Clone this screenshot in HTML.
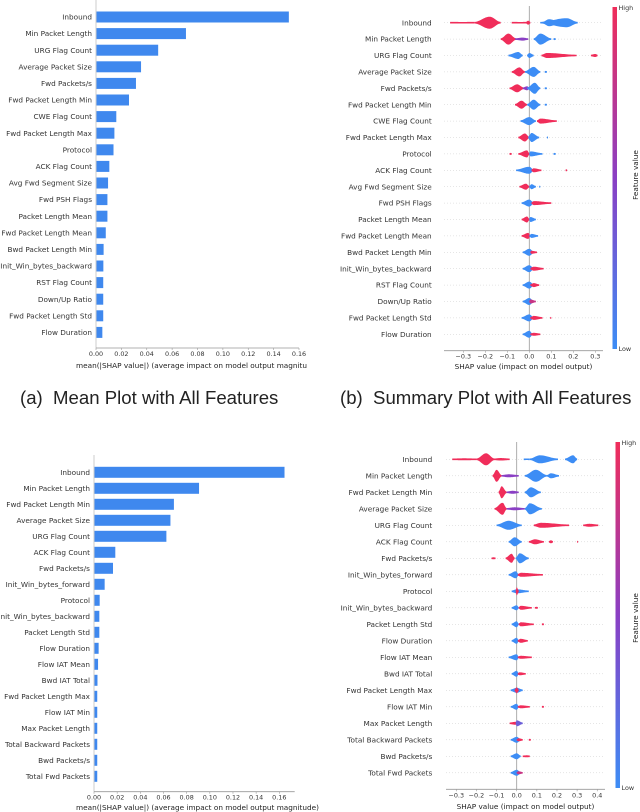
<!DOCTYPE html>
<html><head><meta charset="utf-8">
<style>
body{margin:0;background:#fff;width:640px;height:812px;overflow:hidden}
svg{display:block}
.lab{font-family:"DejaVu Sans","Liberation Sans",sans-serif;font-size:7.3px;fill:#333}
.tick{font-family:"DejaVu Sans","Liberation Sans",sans-serif;font-size:6.4px;fill:#333}
.ax{font-family:"DejaVu Sans","Liberation Sans",sans-serif;font-size:7.3px;fill:#222}
.cap{font-family:"Liberation Sans",sans-serif;font-size:18.6px;fill:#222;white-space:pre}
</style></head><body>
<svg id="fig" width="640" height="812" viewBox="0 0 640 812" xmlns="http://www.w3.org/2000/svg">
<defs>
<linearGradient id="cbar" x1="0" y1="1" x2="0" y2="0">
<stop offset="0" stop-color="#3d8df5"/><stop offset="0.5" stop-color="#8a3fc4"/><stop offset="1" stop-color="#f02d5a"/>
</linearGradient>
</defs>
<text class="cap" x="20" y="404" xml:space="preserve">(a)  Mean Plot with All Features</text>
<text class="cap" x="340" y="404" xml:space="preserve">(b)  Summary Plot with All Features</text>
</svg>
<script>
// ---- Panel A (mean bar, all features)
const aFeatures=["Inbound","Min Packet Length","URG Flag Count","Average Packet Size","Fwd Packets/s","Fwd Packet Length Min","CWE Flag Count","Fwd Packet Length Max","Protocol","ACK Flag Count","Avg Fwd Segment Size","Fwd PSH Flags","Packet Length Mean","Fwd Packet Length Mean","Bwd Packet Length Min","Init_Win_bytes_backward","RST Flag Count","Down/Up Ratio","Fwd Packet Length Std","Flow Duration"];
const aValues=[0.152,0.0709,0.049,0.0355,0.0315,0.026,0.016,0.0145,0.0138,0.0105,0.0095,0.009,0.009,0.0077,0.006,0.0058,0.0057,0.0057,0.0057,0.005];
const aTicks=[0,0.02,0.04,0.06,0.08,0.10,0.12,0.14,0.16];
const aTickLabels=["0.00","0.02","0.04","0.06","0.08","0.10","0.12","0.14","0.16"];
// ---- Panel C (mean bar, selected features)
const cFeatures=["Inbound","Min Packet Length","Fwd Packet Length Min","Average Packet Size","URG Flag Count","ACK Flag Count","Fwd Packets/s","Init_Win_bytes_forward","Protocol","Init_Win_bytes_backward","Packet Length Std","Flow Duration","Flow IAT Mean","Bwd IAT Total","Fwd Packet Length Max","Flow IAT Min","Max Packet Length","Total Backward Packets","Bwd Packets/s","Total Fwd Packets"];
const cValues=[0.1645,0.0907,0.069,0.066,0.0625,0.0184,0.0164,0.0092,0.0049,0.0046,0.0046,0.004,0.0035,0.003,0.0028,0.0028,0.0028,0.0028,0.0028,0.0028];
const cTicks=[0,0.02,0.04,0.06,0.08,0.10,0.12,0.14,0.16];
const cTickLabels=["0.00","0.02","0.04","0.06","0.08","0.10","0.12","0.14","0.16"];
// ---- Panel B (beeswarm, all features): blobs [start, end, peak, density, featureValue]
const bFeatures=aFeatures;
const bBlobs=[
[[-0.36,-0.25,-0.3,1.5,1],[-0.25,-0.13,-0.18,12,1],[-0.08,-0.01,-0.04,1.5,1],[-0.015,0.005,-0.005,4,1],[0.05,0.22,0.17,9,0],[0.06,0.14,0.09,7,0]],
[[-0.13,-0.06,-0.095,11,1],[-0.065,-0.005,-0.03,3,0.5],[0.02,0.1,0.05,11,0],[0.11,0.12,0.115,2,0]],
[[-0.095,-0.03,-0.05,7,0],[-0.01,0.02,0,5,0],[0.055,0.215,0.08,5,1],[0.28,0.31,0.3,3,1]],
[[-0.08,-0.02,-0.045,9,1],[-0.02,0.05,0.02,10,0],[0.07,0.08,0.075,2,0]],
[[-0.09,-0.025,-0.055,8,1],[-0.03,0.0,-0.01,4,0.5],[-0.01,0.05,0.025,11,0],[0.07,0.08,0.075,2,0]],
[[-0.065,-0.01,-0.035,8,1],[-0.01,0.05,0.02,10,0],[0.07,0.08,0.075,2,0]],
[[-0.04,0.03,0,8,0],[0.035,0.125,0.05,5,1]],
[[-0.05,0,-0.02,8,1],[-0.005,0.045,0.01,9,0],[0.08,0.085,0.082,2,0]],
[[-0.09,-0.08,-0.085,2,1],[-0.05,0.0,-0.01,7,1],[0,0.06,0.005,5,0],[0.11,0.12,0.115,2,0]],
[[-0.06,0.02,0,7,0],[0.01,0.055,0.02,4,1],[0.165,0.172,0.168,2,1]],
[[-0.045,0,-0.015,6,1],[0,0.03,0.01,5,0],[0.045,0.05,0.047,2,0]],
[[-0.035,0.02,0,7,0],[0.01,0.1,0.02,4,1]],
[[-0.035,0,-0.01,6,1],[0,0.03,0.005,5,0]],
[[-0.035,0.005,-0.005,6,1],[0,0.04,0.01,4,0]],
[[-0.03,0.02,0,7,0],[0.005,0.035,0.01,3,1]],
[[-0.03,0.02,0,7,0],[0.005,0.065,0.02,4,1]],
[[-0.03,0.02,0,7,0],[0.005,0.045,0.02,4,1]],
[[-0.03,0.02,0,7,0],[0,0.03,0.005,4,0.8]],
[[-0.035,0.02,0,7,0],[0.005,0.06,0.02,4,1],[0.095,0.1,0.097,2,1]],
[[-0.03,0.015,0,7,0],[0.005,0.05,0.02,3,1]]
];
const bTicks=[-0.3,-0.2,-0.1,0,0.1,0.2,0.3];
const bTickLabels=["\u22120.3","\u22120.2","\u22120.1","0.0","0.1","0.2","0.3"];
// ---- Panel D (beeswarm, selected features)
const dFeatures=cFeatures;
const dBlobs=[
[[-0.32,-0.2,-0.26,2,1],[-0.2,-0.11,-0.152,12,1],[-0.115,-0.035,-0.08,2.5,1],[0.035,0.065,0.05,1.5,0],[0.065,0.205,0.115,8,0],[0.24,0.3,0.28,8,0]],
[[-0.12,-0.075,-0.1,12,1],[-0.075,0.01,-0.04,3,0.5],[0.04,0.15,0.095,12,0],[0.15,0.21,0.17,5,0]],
[[-0.09,-0.05,-0.075,12,1],[-0.05,0.01,-0.02,3,0.5],[0.04,0.12,0.07,10,0]],
[[-0.11,-0.05,-0.07,12,1],[-0.05,0.04,-0.01,3,0.5],[0.04,0.125,0.065,11,0]],
[[-0.1,0.025,-0.04,9,0],[0.085,0.26,0.12,5,1],[0.33,0.405,0.36,3,1]],
[[-0.04,0.025,-0.01,9,0],[0.06,0.135,0.09,5,1],[0.16,0.18,0.17,3,1],[0.3,0.305,0.302,2,1]],
[[-0.125,-0.105,-0.115,2,1],[-0.055,-0.01,-0.025,9,1],[-0.005,0.06,0.015,10,0]],
[[-0.04,0.01,-0.005,7,0],[0.005,0.13,0.02,4,1]],
[[-0.025,0.06,0,4,0],[-0.005,0.01,0,8,1]],
[[-0.025,0.01,0,5,0],[0.01,0.075,0.02,4,1],[0.09,0.105,0.1,2,1]],
[[-0.025,0.01,0,6,0],[0.01,0.085,0.02,4,1],[0.125,0.135,0.13,2,1]],
[[-0.025,0.01,0,6,0],[0.005,0.055,0.02,4,1]],
[[-0.04,0.01,0,6,0],[0.005,0.075,0.02,3,1]],
[[-0.025,0.01,0,6,0],[0.005,0.045,0.015,3,1]],
[[-0.03,0.03,0,5,0],[-0.01,0.01,0,6,1]],
[[-0.03,0.01,0,6,0],[0.005,0.065,0.02,3,1],[0.125,0.135,0.13,2,1]],
[[-0.035,0,-0.005,3,1],[-0.005,0.03,0,6,0.3]],
[[-0.03,0.02,0,6,0],[0,0.03,0.01,3,1],[0.06,0.07,0.065,2,1]],
[[-0.03,0.02,0,6,0],[0.03,0.065,0.05,2,1]],
[[-0.03,0.02,0,6,0],[0,0.03,0.01,3,0.8]]
];
const dTicks=[-0.3,-0.2,-0.1,0,0.1,0.2,0.3,0.4];
const dTickLabels=["\u22120.3","\u22120.2","\u22120.1","0.0","0.1","0.2","0.3","0.4"];

const NS="http://www.w3.org/2000/svg";
const svg=document.getElementById('fig');
function mk(tag,attrs,parent){const e=document.createElementNS(NS,tag);for(const k in attrs)e.setAttribute(k,attrs[k]);(parent||svg).appendChild(e);return e;}
function txt(parent,x,y,s,cls,anchor){const t=mk('text',{x:x,y:y,class:cls,'text-anchor':anchor||'start'},parent);t.textContent=s;return t;}
function colorOf(v){
  const a=[61,141,245],m=[138,63,196],b=[240,45,90];let c;
  if(v<=0.5){const t=v/0.5;c=a.map((q,i)=>Math.round(q+(m[i]-q)*t));}
  else{const t=(v-0.5)/0.5;c=m.map((q,i)=>Math.round(q+(b[i]-q)*t));}
  return 'rgb('+c.join(',')+')';
}

function barPanel(name,feats,vals,ticks,tlabels,cfg){
  const g=mk('g',{});
  
  
  const xs=v=>cfg.x0+(v-0)*(cfg.x1-cfg.x0)/(cfg.vmax);
  const ys=i=>cfg.y0+i*cfg.dy;
  feats.forEach((f,i)=>{
    const t=txt(g,cfg.x0-4,ys(i)+2.6,f,'lab','end');
    
    
    const r=mk('rect',{x:cfg.x0,y:ys(i)-cfg.bh/2,width:Math.max(0,xs(vals[i])-cfg.x0),height:cfg.bh,fill:'#3f88ee'},g);
    
    
  });
  const axl=mk('line',{x1:cfg.x0,y1:cfg.ytop,x2:cfg.x0,y2:cfg.axy,stroke:'#ccc','stroke-width':1},g);
  
  
  const xl=mk('line',{x1:cfg.x0,y1:cfg.axy,x2:cfg.xend,y2:cfg.axy,stroke:'#999','stroke-width':0.8},g);
  
  
  ticks.forEach((v,i)=>{
    mk('line',{x1:xs(v),y1:cfg.axy,x2:xs(v),y2:cfg.axy+2,stroke:'#999','stroke-width':0.6},g);
    const t=txt(g,xs(v),cfg.axy+8,tlabels[i],'tick','middle');
    
    
  });
  const at=txt(g,cfg.labx,cfg.laby,cfg.label,'ax','start');
  
  
}

function blobPath(xs,yc,b){
  const [s,e,p,h]=b;const X0=xs(s),X1=xs(e),XP=xs(p);
  const H=Math.max(1.4,h)/2;const top=[],bot=[];const N=28;
  for(let k=0;k<=N;k++){
    const x=X0+(X1-X0)*k/N;let f;
    if(x<=XP){f=XP>X0?(x-X0)/(XP-X0):1;}else{f=X1>XP?(X1-x)/(X1-XP):1;}
    f=Math.max(0,f);
    f=Math.sin(f*Math.PI/2);
    f=f*f;
    const hh=0.8+(H-0.8)*f;
    top.push(x.toFixed(2)+','+(yc-hh).toFixed(2));bot.unshift(x.toFixed(2)+','+(yc+hh).toFixed(2));
  }
  return 'M'+top.join(' L')+' L'+bot.join(' L')+' Z';
}

function beePanel(name,feats,blobs,ticks,tlabels,cfg){
  const g=mk('g',{});
  
  
  const xs=v=>cfg.zx+v*cfg.k;
  const ys=i=>cfg.y0+i*cfg.dy;
  feats.forEach((f,i)=>{
    mk('line',{x1:cfg.pl,y1:ys(i),x2:cfg.pr,y2:ys(i),stroke:'#ccc','stroke-width':0.5,'stroke-dasharray':'1 2'},g);
    const t=txt(g,cfg.labx,ys(i)+2.6,f,'lab','end');
    
    
  });
  const zl=mk('line',{x1:xs(0),y1:cfg.ytop,x2:xs(0),y2:cfg.axy,stroke:'#999','stroke-width':0.8},g);
  
  
  blobs.forEach((row,i)=>{
    row.forEach(b=>{
      const p=mk('path',{d:blobPath(xs,ys(i),b),fill:colorOf(b[4])},g);
      
      
    });
  });
  const xl=mk('line',{x1:cfg.pl,y1:cfg.axy,x2:cfg.pr,y2:cfg.axy,stroke:'#999','stroke-width':0.8},g);
  
  
  ticks.forEach((v,i)=>{
    mk('line',{x1:xs(v),y1:cfg.axy,x2:xs(v),y2:cfg.axy+2,stroke:'#999','stroke-width':0.6},g);
    const t=txt(g,xs(v),cfg.axy+8,tlabels[i],'tick','middle');
    
    
  });
  const at=txt(g,(cfg.pl+cfg.pr)/2,cfg.laby,'SHAP value (impact on model output)','ax','middle');
  
  
  const cb=mk('rect',{x:cfg.cbx,y:cfg.cby0,width:4.5,height:cfg.cby1-cfg.cby0,fill:'url(#cbar)'},g);
  
  
  const hi=txt(g,cfg.cbx+6,cfg.cby0+3,'High','tick','start');
  
  
  const lo=txt(g,cfg.cbx+6,cfg.cby1+2,'Low','tick','start');
  
  
  const fv=txt(g,0,0,'Feature value','ax','middle');
  fv.setAttribute('transform','translate('+cfg.fvx+','+cfg.fvy+') rotate(-90)');
  
  
}

barPanel('mean-bar-all',aFeatures,aValues,aTicks,aTickLabels,{x0:96,x1:299,vmax:0.16,y0:17,dy:16.6,bh:11,ytop:0,axy:348,xend:299,labx:76,laby:368,label:'mean(|SHAP value|) (average impact on model output magnitu'});
beePanel('summary-all',bFeatures,bBlobs,bTicks,bTickLabels,{zx:529.3,k:220,y0:22.7,dy:16.4,pl:444,pr:603,labx:431.7,ytop:6,axy:350.7,laby:369,cbx:612.5,cby0:7,cby1:349,fvx:638,fvy:175});
barPanel('mean-bar-selected',cFeatures,cValues,cTicks,cTickLabels,{x0:94,x1:279.3,vmax:0.16,y0:472.3,dy:16.0,bh:11,ytop:455,axy:791.7,xend:294.7,labx:76,laby:810,label:'mean(|SHAP value|) (average impact on model output magnitude)'});
beePanel('summary-selected',dFeatures,dBlobs,dTicks,dTickLabels,{zx:516.7,k:201.4,y0:459.3,dy:16.5,pl:446,pr:605,labx:432.3,ytop:442,axy:789.3,laby:809,cbx:615.5,cby0:442,cby1:788,fvx:638,fvy:618});
</script>
</body></html>
